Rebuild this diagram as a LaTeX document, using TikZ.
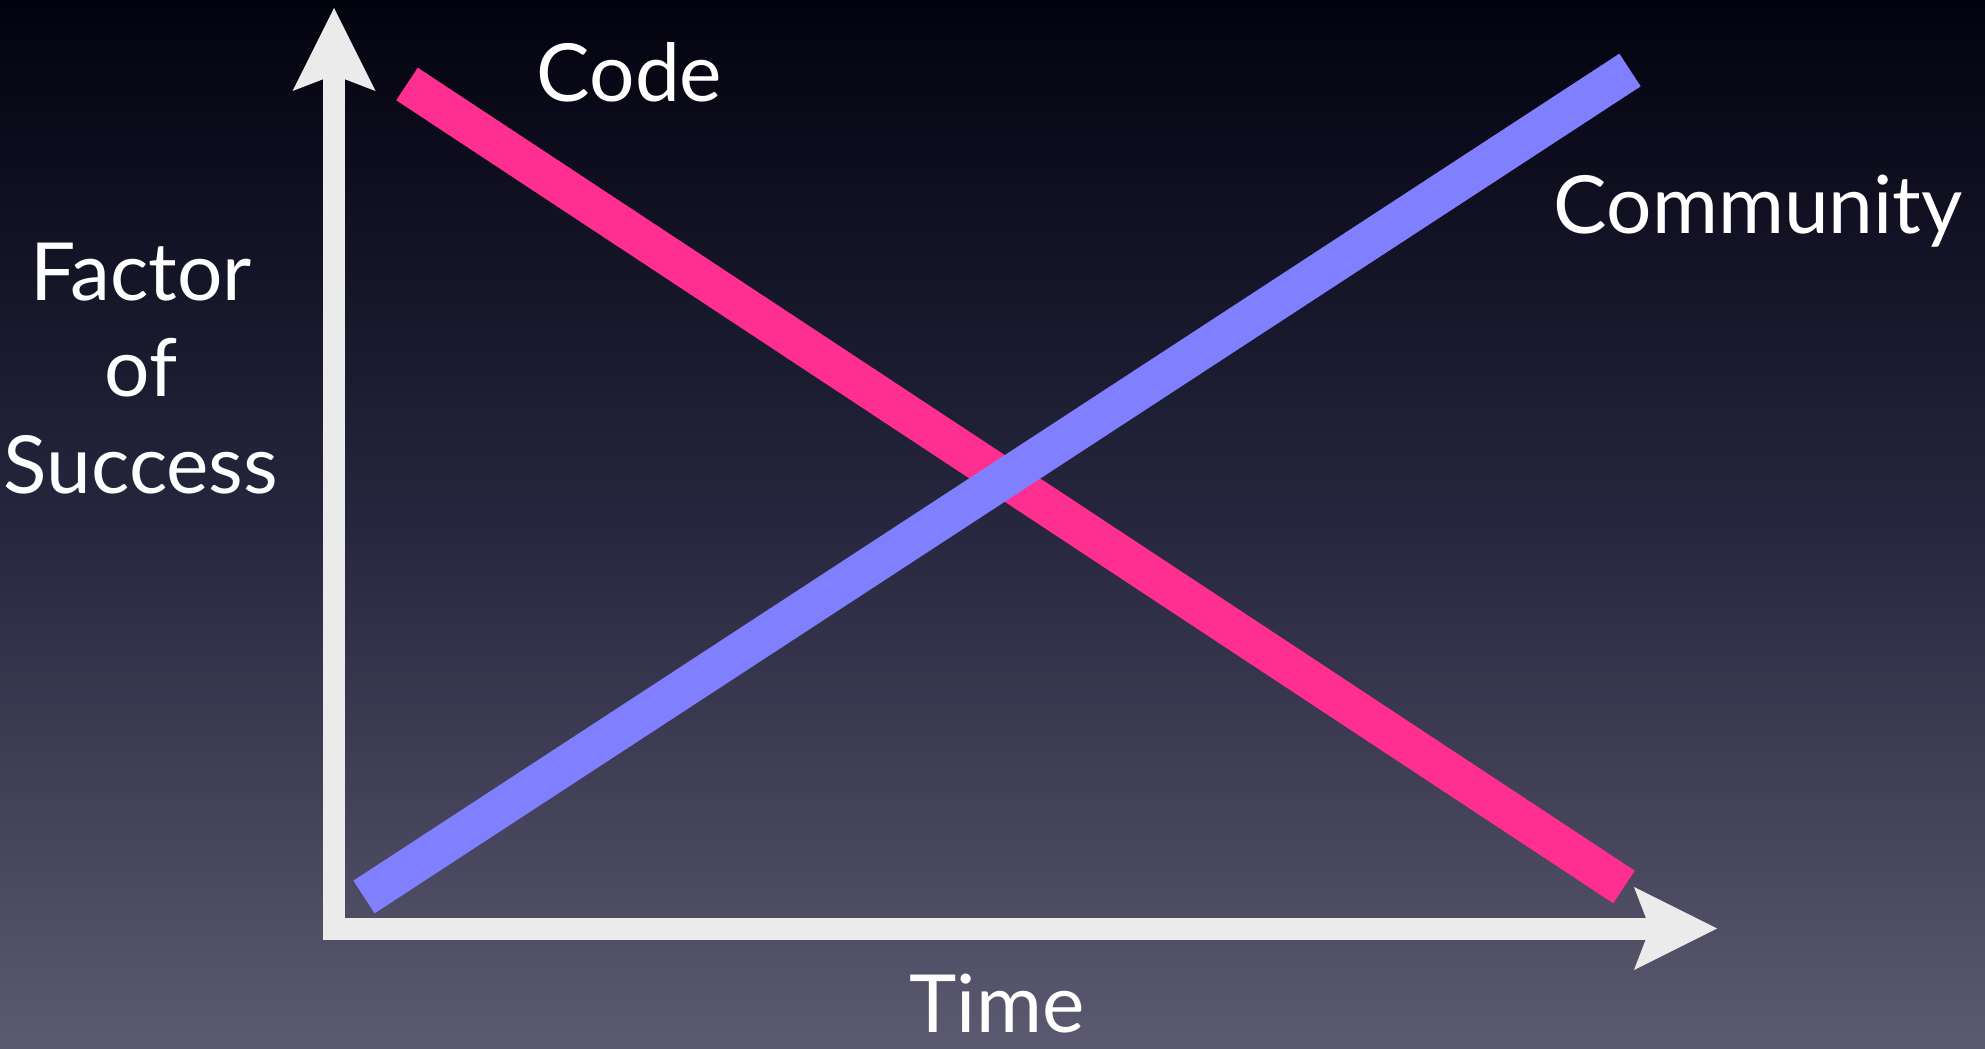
\documentclass[tikz,border=0pt]{standalone}
\usepackage{fontspec}
\setmainfont{Lato}
\usetikzlibrary{arrows.meta}

\definecolor{bgtop}{RGB}{2,2,15}
\definecolor{bgmid}{RGB}{38,38,62}
\definecolor{bgbot}{RGB}{92,90,112}
\definecolor{axisgray}{RGB}{235,235,235}
\definecolor{codepink}{RGB}{255,46,145}
\definecolor{commblue}{RGB}{128,128,255}

\tikzset{
  axisline/.style={draw=axisgray, line width=0.22cm, line join=miter,
    {Stealth[length=8.3mm, width=8.3mm, inset=1.6mm, line width=0pt]}-{Stealth[length=8.3mm, width=8.3mm, inset=1.6mm, line width=0pt]}},
  trend/.style={line width=0.39cm, line cap=butt},
  label/.style={text=white, inner sep=0pt, font=\fontsize{22.8}{27.3}\selectfont}
}

\begin{document}
\begin{tikzpicture}[x=0.01cm, y=-0.01cm]
  % background
  \shade[top color=bgtop, bottom color=bgbot, middle color=bgmid]
    (0,0) rectangle (1985,1049);
  \useasboundingbox (0,0) rectangle (1985,1049);

  % axes
  \coordinate (origin) at (334,928.5);
  \coordinate (ytip) at (334,8);
  \coordinate (xtip) at (1717,928.5);
  \draw[axisline] (ytip) -- (origin) -- (xtip);

  % trend lines
  \coordinate (codeA) at (407,84);
  \coordinate (codeB) at (1624,887);
  \coordinate (commA) at (364,897);
  \coordinate (commB) at (1630,70);
  \draw[trend, codepink] (codeA) -- (codeB);
  \draw[trend, commblue] (commA) -- (commB);

  % labels
  \node[label, anchor=base west] (code) at (536,102) {Code};
  \node[label, anchor=base west] (community) at (1553,234) {Community};
  \node[label, anchor=base, align=center] (factor) at (141,493) {Factor\\of\\Success};
  \node[label, anchor=base, text depth=0pt] (time) at (997,1032) {Time};
\end{tikzpicture}
\end{document}
